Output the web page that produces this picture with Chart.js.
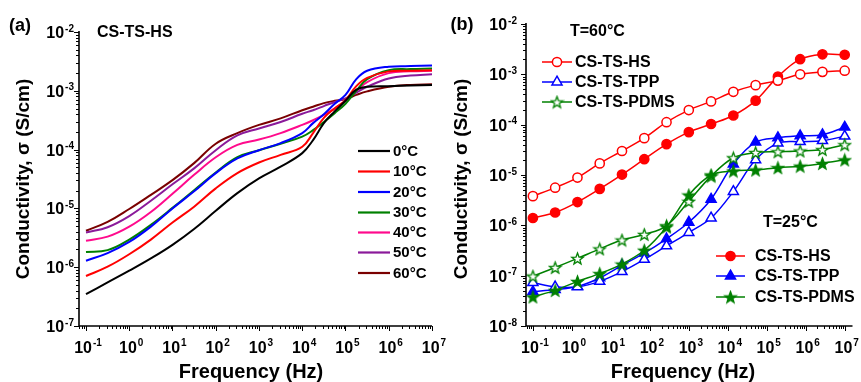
<!DOCTYPE html>
<html><head><meta charset="utf-8">
<script src="https://cdn.jsdelivr.net/npm/chart.js@4/dist/chart.umd.min.js"></script>
<style>
html,body{margin:0;padding:0;background:#fff;}
#wrap{position:relative;width:861px;height:382px;overflow:hidden;background:#fff;}
#ca{position:absolute;left:0;top:0;}
#cb{position:absolute;left:430px;top:0;}
</style></head><body>
<div id="wrap"><canvas id="ca" width="460" height="382"></canvas><canvas id="cb" width="431" height="382"></canvas></div>
<script>
// ---------- Panel (a): CS-TS-HS at different temperatures ----------
const freqA = [0.1, 0.316, 1, 3.16, 10, 31.6, 100, 316, 1000, 3162, 10000, 17783, 31623, 56234, 100000, 177828, 316228, 1000000, 3162278, 10000000];
const tempLabelsA = ['0°C','10°C','20°C','30°C','40°C','50°C','60°C'];
const sigma0C  = [3.47e-7,5.50e-7,8.71e-7,1.41e-6,2.40e-6,4.47e-6,9.12e-6,1.82e-5,3.24e-5,5.13e-5,8.71e-5,1.45e-4,2.82e-4,4.47e-4,6.76e-4,1.05e-3,1.17e-3,1.20e-3,1.23e-3,1.26e-3];
const sigma10C = [7.08e-7,1.02e-6,1.66e-6,2.95e-6,5.75e-6,1.07e-5,2.19e-5,3.98e-5,6.03e-5,8.13e-5,1.12e-4,1.91e-4,3.47e-4,5.01e-4,6.92e-4,1.20e-3,1.66e-3,2.14e-3,2.19e-3,2.24e-3];
const sigma20C = [1.29e-6,1.74e-6,2.69e-6,4.90e-6,1.00e-5,1.95e-5,3.98e-5,7.08e-5,9.77e-5,1.29e-4,1.91e-4,2.82e-4,3.98e-4,6.03e-4,8.51e-4,1.58e-3,2.19e-3,2.57e-3,2.63e-3,2.69e-3];
const sigma30C = [1.82e-6,1.95e-6,2.95e-6,5.25e-6,1.02e-5,2.04e-5,4.07e-5,7.41e-5,9.77e-5,1.26e-4,1.66e-4,2.14e-4,2.95e-4,4.17e-4,6.03e-4,1.00e-3,1.58e-3,2.24e-3,2.34e-3,2.40e-3];
const sigma40C = [2.82e-6,3.31e-6,4.90e-6,8.71e-6,1.78e-5,3.72e-5,7.41e-5,1.20e-4,1.48e-4,1.91e-4,2.63e-4,3.16e-4,3.89e-4,5.01e-4,6.76e-4,1.00e-3,1.41e-3,2.00e-3,2.14e-3,2.19e-3];
const sigma50C = [3.89e-6,4.79e-6,7.41e-6,1.35e-5,2.57e-5,4.79e-5,9.77e-5,1.74e-4,2.29e-4,2.95e-4,4.07e-4,4.68e-4,5.50e-4,6.46e-4,7.41e-4,9.33e-4,1.17e-3,1.62e-3,1.82e-3,1.91e-3];
const sigma60C = [4.17e-6,5.89e-6,9.77e-6,1.70e-5,3.02e-5,5.89e-5,1.26e-4,1.91e-4,2.63e-4,3.39e-4,4.68e-4,5.37e-4,6.17e-4,6.76e-4,7.24e-4,8.51e-4,9.77e-4,1.17e-3,1.26e-3,1.29e-3];

// ---------- Panel (b): three membranes at 60 °C (open) and 25 °C (filled) ----------
const freqB = [0.1, 0.372, 1.39, 5.18, 19.3, 72.0, 268, 1000, 3728, 13895, 51795, 193070, 719686, 2683000, 10000000];
const seriesLabelsB = ['CS-TS-HS','CS-TS-TPP','CS-TS-PDMS'];
const hs60   = [3.8e-6,5.6e-6,8.9e-6,1.7e-5,3.0e-5,5.4e-5,1.12e-4,1.95e-4,2.9e-4,4.5e-4,6.1e-4,7.5e-4,1.0e-3,1.12e-3,1.18e-3];
const tpp60  = [7.3e-8,6.0e-8,6.0e-8,7.7e-8,1.2e-7,2.1e-7,3.9e-7,7.2e-7,1.4e-6,4.7e-6,2.0e-5,4.3e-5,4.6e-5,4.8e-5,5.9e-5];
const pdms60 = [9.8e-8,1.45e-7,2.2e-7,3.4e-7,5.1e-7,6.6e-7,9.8e-7,3.0e-6,9.5e-6,2.2e-5,2.8e-5,2.9e-5,3.0e-5,3.2e-5,4.0e-5];
const hs25   = [1.4e-6,1.8e-6,2.9e-6,5.3e-6,1.02e-5,2.06e-5,4.1e-5,7.1e-5,1.03e-4,1.52e-4,3.0e-4,9.0e-4,2.0e-3,2.5e-3,2.45e-3];
const tpp25  = [4.8e-8,5.3e-8,6.1e-8,9.0e-8,1.6e-7,2.8e-7,5.4e-7,1.15e-6,3.3e-6,1.65e-5,4.5e-5,5.5e-5,6.0e-5,6.3e-5,8.9e-5];
const pdms25 = [3.8e-8,5.1e-8,7.7e-8,1.1e-7,1.7e-7,3.2e-7,9.3e-7,4.0e-6,1.0e-5,1.2e-5,1.26e-5,1.4e-5,1.5e-5,1.7e-5,2.0e-5];

// ---------- axis ticks ----------
const xTickExpA = ['-1','0','1','2','3','4','5','6','7'];
const yTickExpA = ['-7','-6','-5','-4','-3','-2'];
const xTickExpB = ['-1','0','1','2','3','4','5','6','7'];
const yTickExpB = ['-8','-7','-6','-5','-4','-3','-2'];

const FONT = 'Arial, "Liberation Sans", Helvetica, sans-serif';
const colorsA = ['#000000','#ff0000','#0000ff','#008000','#ff0a8c','#8a1a9a','#7a0000'];
const seriesA = [sigma0C,sigma10C,sigma20C,sigma30C,sigma40C,sigma50C,sigma60C];
const pts = (xs, ys) => xs.map((x,i)=>({x, y: ys[i]}));

function starCanvas(fill){
  const s=15, c=document.createElement('canvas'); c.width=s; c.height=s;
  const g=c.getContext('2d'); const R=6.0, r=2.5, cx=s/2, cy=s/2+0.6;
  g.beginPath();
  for(let i=0;i<10;i++){const a=-Math.PI/2+i*Math.PI/5; const rr=i%2?r:R; g.lineTo(cx+rr*Math.cos(a), cy+rr*Math.sin(a));}
  g.closePath(); g.fillStyle=fill?'#008000':'#ffffff'; g.fill();
  g.strokeStyle='#008000'; g.lineWidth=1.3; g.lineJoin='miter'; g.stroke();
  return c;
}
const starOpen = starCanvas(false), starFill = starCanvas(true);

function pow10(ctx, exp, x, y, align, base, sup){
  ctx.font=`bold ${base}px ${FONT}`; const w1=ctx.measureText('10').width;
  ctx.font=`bold ${sup}px ${FONT}`; const w2=ctx.measureText(exp).width;
  const tot=w1+w2+1; const sx = align==='center' ? x-tot/2 : x-tot;
  ctx.textAlign='left'; ctx.textBaseline='alphabetic'; ctx.fillStyle='#000';
  ctx.font=`bold ${base}px ${FONT}`; ctx.fillText('10', sx, y);
  ctx.font=`bold ${sup}px ${FONT}`; ctx.fillText(exp, sx+w1+1, y-6.5);
}

function drawAxes(chart, xExps, yExps, yLabelGap){
  const ctx=chart.ctx, xs=chart.scales.x, ys=chart.scales.y, a=chart.chartArea;
  ctx.save();
  ctx.strokeStyle='#000'; ctx.lineWidth=1.6;
  ctx.beginPath(); ctx.moveTo(a.left, a.top-1); ctx.lineTo(a.left, a.bottom); ctx.lineTo(a.right, a.bottom); ctx.stroke();
  ctx.lineWidth=1;
  const xe0=Math.floor(Math.log10(xs.min)), xe1=Math.ceil(Math.log10(xs.max));
  for(let e=xe0;e<=xe1;e++) for(let m=1;m<=9;m++){
    const v=m*Math.pow(10,e); if(v<xs.min*0.999||v>xs.max*1.001) continue;
    const px=Math.round(xs.getPixelForValue(v))+0.5; const L=m===1?5:3;
    ctx.beginPath(); ctx.moveTo(px,a.bottom); ctx.lineTo(px,a.bottom+L); ctx.stroke();
  }
  const ye0=Math.floor(Math.log10(ys.min)), ye1=Math.ceil(Math.log10(ys.max));
  for(let e=ye0;e<=ye1;e++) for(let m=1;m<=9;m++){
    const v=m*Math.pow(10,e); if(v<ys.min*0.999||v>ys.max*1.001) continue;
    const py=Math.round(ys.getPixelForValue(v))+0.5; const L=m===1?5:3;
    ctx.beginPath(); ctx.moveTo(a.left,py); ctx.lineTo(a.left-L,py); ctx.stroke();
  }
  xExps.forEach(ex=>{ const px=xs.getPixelForValue(Math.pow(10,+ex)); pow10(ctx, ex, px+2, 352.5, 'center', 16, 10); });
  yExps.forEach(ex=>{ const py=ys.getPixelForValue(Math.pow(10,+ex)); pow10(ctx, ex, a.left-yLabelGap, py+6, 'right', 16, 10); });
  ctx.restore();
}

function text(ctx, s, x, y, size, align){
  ctx.font=`bold ${size}px ${FONT}`; ctx.fillStyle='#000'; ctx.textAlign=align||'left'; ctx.textBaseline='middle'; ctx.fillText(s,x,y);
}
function yTitle(ctx, x, y){
  ctx.save(); ctx.translate(x,y); ctx.rotate(-Math.PI/2);
  text(ctx,'Conductivity, σ (S/cm)',0,0,19,'center'); ctx.restore();
}
function marker(ctx, ds, x, y){
  ctx.save();
  if(ds.pointStyle instanceof HTMLCanvasElement){ ctx.drawImage(ds.pointStyle, x-ds.pointStyle.width/2, y-ds.pointStyle.height/2); }
  else {
    ctx.fillStyle=ds.pointBackgroundColor; ctx.strokeStyle=ds.pointBorderColor; ctx.lineWidth=ds.pointBorderWidth;
    const r=ds.pointRadius; ctx.beginPath();
    if(ds.pointStyle==='triangle'){ let rad=0; ctx.moveTo(x+Math.sin(rad)*r, y-Math.cos(rad)*r); rad+=2*Math.PI/3; ctx.lineTo(x+Math.sin(rad)*r, y-Math.cos(rad)*r); rad+=2*Math.PI/3; ctx.lineTo(x+Math.sin(rad)*r, y-Math.cos(rad)*r); ctx.closePath(); }
    else ctx.arc(x,y,r,0,Math.PI*2);
    ctx.fill(); ctx.stroke();
  }
  ctx.restore();
}

// ---------- Chart (a) ----------
const dsA = seriesA.map((s,i)=>({label:tempLabelsA[i], data:pts(freqA,s), borderColor:colorsA[i], borderWidth:2, pointRadius:0, tension:0.4, fill:false}));
const pluginA = {id:'decoA', afterDraw(chart){
  const ctx=chart.ctx;
  drawAxes(chart, xTickExpA, yTickExpA, 5);
  text(ctx,'(a)',20,26,18,'center');
  text(ctx,'CS-TS-HS',97,33,16,'left');
  yTitle(ctx,24,179);
  text(ctx,'Frequency (Hz)',251,372,20,'center');
  const rows=[151,171.5,192,212.5,232.5,252.5,273];
  dsA.forEach((d,i)=>{
    ctx.save(); ctx.strokeStyle=d.borderColor; ctx.lineWidth=2.2; ctx.beginPath(); ctx.moveTo(358,rows[i]); ctx.lineTo(390,rows[i]); ctx.stroke(); ctx.restore();
    text(ctx,d.label,393,rows[i]+0.5,15,'left');
  });
}};
new Chart(document.getElementById('ca'), {
  type:'line', data:{datasets:dsA},
  options:{responsive:false, animation:false, devicePixelRatio:1,
    layout:{padding:{left:0,right:28,top:32,bottom:0}},
    plugins:{legend:{display:false}, tooltip:{enabled:false}},
    scales:{
      x:{type:'logarithmic', min:0.0689, max:1e7, ticks:{display:false}, grid:{display:false}, border:{display:false}, afterFit:s=>{s.height=56;}},
      y:{type:'logarithmic', min:1e-7, max:1e-2, ticks:{display:false}, grid:{display:false}, border:{display:false}, afterFit:s=>{s.width=79;}}
    }},
  plugins:[pluginA]
});

// ---------- Chart (b) ----------
const RED='#ff0000', BLUE='#0000ff', GREEN='#008000';
function dsB(label, ys, color, style, filled){
  const o={label, data:pts(freqB,ys), borderColor:color, borderWidth:1.5, tension:0.35, fill:false, clip:false,
    pointStyle:style, pointRadius: style==='triangle'?5.8:4.6, pointBorderWidth:1.5, pointBorderColor:color,
    pointBackgroundColor: filled?color:'#ffffff', pointHoverRadius:0};
  if(style instanceof HTMLCanvasElement){ o.pointRadius=7; }
  return o;
}
const datasetsB = [
  dsB(seriesLabelsB[2]+' 25', pdms25, GREEN, starFill, true),
  dsB(seriesLabelsB[2]+' 60', pdms60, GREEN, starOpen, false),
  dsB(seriesLabelsB[1]+' 60', tpp60, BLUE, 'triangle', false),
  dsB(seriesLabelsB[1]+' 25', tpp25, BLUE, 'triangle', true),
  dsB(seriesLabelsB[0]+' 60', hs60, RED, 'circle', false),
  dsB(seriesLabelsB[0]+' 25', hs25, RED, 'circle', true)
];
const pluginB = {id:'decoB', afterDraw(chart){
  const ctx=chart.ctx;
  drawAxes(chart, xTickExpB, yTickExpB, 9);
  text(ctx,'(b)',32,25,18,'center');
  text(ctx,'T=60°C',140,32,16,'left');
  text(ctx,'T=25°C',333,223,16,'left');
  yTitle(ctx,32,179);
  text(ctx,'Frequency (Hz)',253,372,20,'center');
  const leg1=[datasetsB[4],datasetsB[2],datasetsB[1]], rows1=[62,82,102];
  const leg2=[datasetsB[5],datasetsB[3],datasetsB[0]], rows2=[256,276,297];
  const drawLeg=(list,rows,x0,x1,tx)=>list.forEach((d,i)=>{
    ctx.save(); ctx.strokeStyle=d.borderColor; ctx.lineWidth=1.5; ctx.beginPath(); ctx.moveTo(x0,rows[i]); ctx.lineTo(x1,rows[i]); ctx.stroke(); ctx.restore();
    marker(ctx,d,(x0+x1)/2,rows[i]);
    text(ctx,seriesLabelsB[i],tx,rows[i]+0.5,16,'left');
  });
  drawLeg(leg1,rows1,112,142,145);
  drawLeg(leg2,rows2,286,315,325);
}};
new Chart(document.getElementById('cb'), {
  type:'line', data:{datasets:datasetsB},
  options:{responsive:false, animation:false, devicePixelRatio:1,
    layout:{padding:{left:0,right:3,top:24,bottom:0}},
    plugins:{legend:{display:false}, tooltip:{enabled:false}},
    scales:{
      x:{type:'logarithmic', min:0.0665, max:1.585e7, ticks:{display:false}, grid:{display:false}, border:{display:false}, afterFit:s=>{s.height=56;}},
      y:{type:'logarithmic', min:1e-8, max:1e-2, ticks:{display:false}, grid:{display:false}, border:{display:false}, afterFit:s=>{s.width=96;}}
    }},
  plugins:[pluginB]
});
</script>
</body></html>
